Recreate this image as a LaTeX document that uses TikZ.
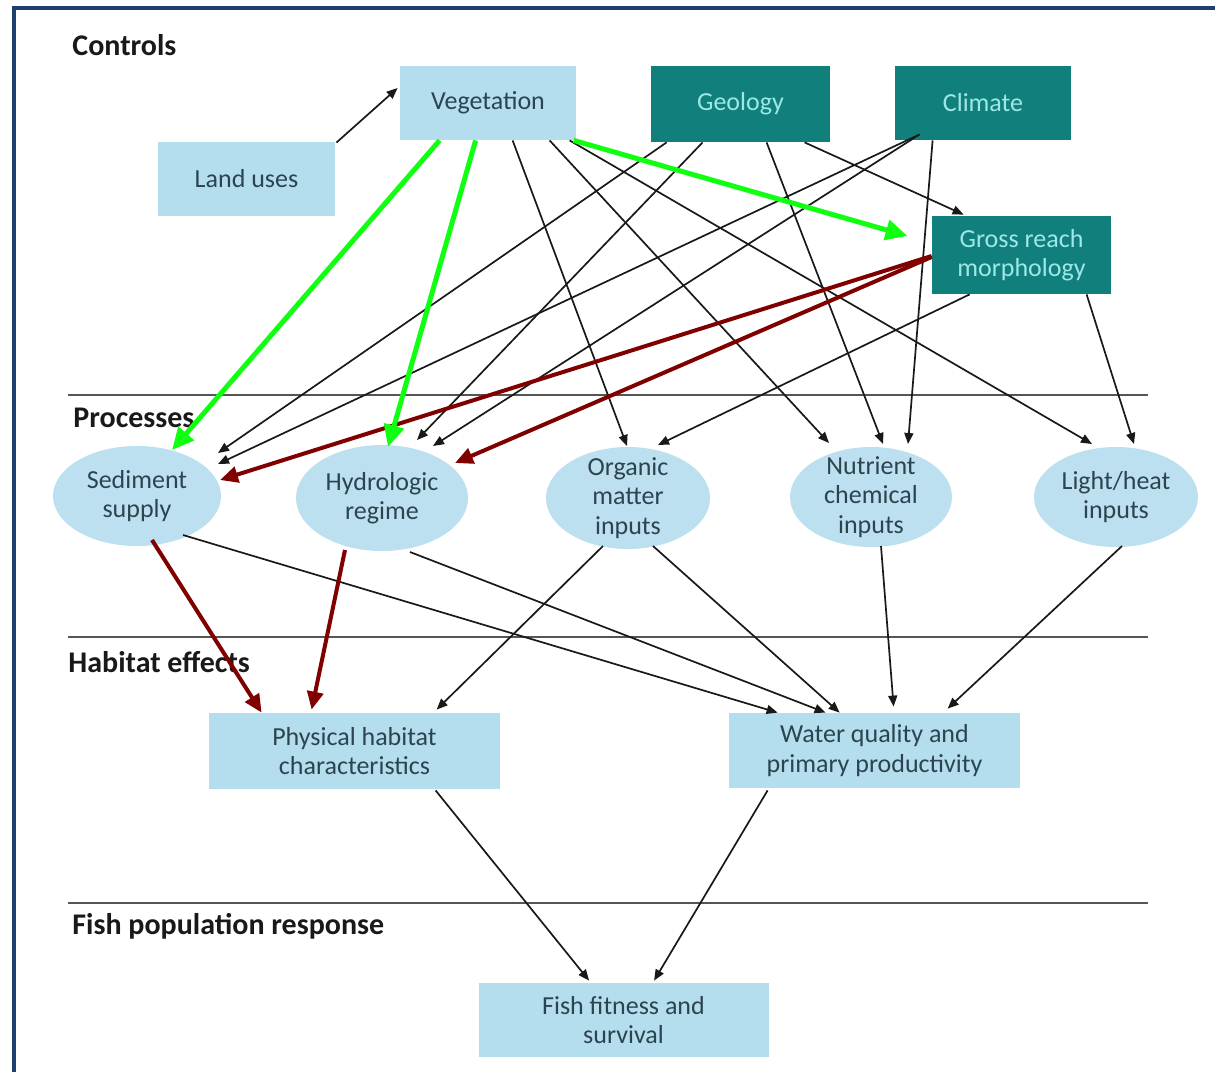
\documentclass[tikz,border=0pt]{standalone}
\usepackage{fontspec}
\setmainfont{Carlito}
\usetikzlibrary{arrows.meta,calc,shapes.geometric}
\definecolor{lbfill}{HTML}{B4DDEE}
\definecolor{ellfill}{HTML}{BCE0EF}
\definecolor{lbtext}{HTML}{2C4450}
\definecolor{tealfill}{HTML}{11807D}
\definecolor{tealtext}{HTML}{9DE8E6}
\definecolor{framenavy}{HTML}{1F3F6E}
\definecolor{sepgray}{HTML}{555555}
\definecolor{redarrow}{HTML}{800000}
\definecolor{greenarrow}{HTML}{11FF11}
\begin{document}
\begin{tikzpicture}[x=0.5pt,y=-0.5pt,
  box/.style={rectangle, inner sep=0pt, align=center, font=\fontsize{13}{14.75}\selectfont},
  lightbox/.style={box, fill=lbfill, text=lbtext},
  tealbox/.style={box, fill=tealfill, text=tealtext},
  proc/.style={ellipse, fill=ellfill, text=lbtext, inner sep=-30pt, align=center, font=\fontsize{13}{14.75}\selectfont},
  conn/.style={draw=black!90, line width=0.85pt, -{Triangle[length=5.5pt,width=4.5pt]}},
  redc/.style={draw=redarrow, line width=2pt, -{Triangle[length=9pt,width=8pt]}},
  greenc/.style={draw=greenarrow, line width=2.5pt, -{Triangle[length=11pt,width=10pt]}},
  sepline/.style={draw=sepgray, line width=1.4pt},
  section/.style={anchor=west, inner sep=0pt, font=\bfseries\fontsize{15}{18}\selectfont, text=black!90}
]
\useasboundingbox (0,0) rectangle (1215,1072);
\fill[white] (0,0) rectangle (1215,1072);
\draw[framenavy, line width=1.6pt] (14,1072) -- (14,8) -- (1215,8);

% separators
\draw[sepline] (68,395) -- (1148,395);
\draw[sepline] (68,637) -- (1148,637);
\draw[sepline] (68,903) -- (1148,903);

% section labels
\node[section] (lctrl) at (72,45) {Controls};
\node[section] (lproc) at (73,418) {Processes};
\node[section] (lhab) at (68,662) {Habitat effects};
\node[section] (lfish) at (72,926) {Fish population response};

% controls
\node[lightbox, minimum width=88pt, minimum height=37pt] (veg) at (488,103) {Vegetation};
\node[tealbox, minimum width=89.5pt, minimum height=38pt] (geo) at (740.5,104) {Geology};
\node[tealbox, minimum width=88pt, minimum height=37pt] (cli) at (983,103) {Climate};
\node[lightbox, minimum width=88.5pt, minimum height=37pt] (land) at (246.5,179) {Land uses};
\node[tealbox, minimum width=89.5pt, minimum height=39pt] (gross) at (1021.5,255) {Gross reach\\morphology};

% processes
\node[proc, minimum width=84pt, minimum height=50pt] (sed) at (137,496) {Sediment\\supply};
\node[proc, minimum width=86pt, minimum height=53pt] (hyd) at (382,498) {Hydrologic\\regime};
\node[proc, minimum width=82pt, minimum height=51pt] (org) at (628,498) {Organic\\matter\\inputs};
\node[proc, minimum width=81pt, minimum height=50pt] (nut) at (871,497) {Nutrient\\chemical\\inputs};
\node[proc, minimum width=82pt, minimum height=50pt] (lig) at (1116,497) {Light/heat\\inputs};

% habitat effects
\node[lightbox, minimum width=145.5pt, minimum height=38pt] (phys) at (354.5,751) {Physical habitat\\characteristics};
\node[lightbox, minimum width=145.5pt, minimum height=37.5pt] (water) at (874.5,750.5) {Water quality and\\primary productivity};

% fish response
\node[lightbox, minimum width=145pt, minimum height=37pt] (fish) at (623.5,1020) {Fish fitness and\\survival};

% black connectors
\draw[conn] ($(land.north east)+(1,1)$) -- ($(veg.west)+(-2,-15)$);
\draw[conn] ($(veg.south west)+(113,0)$) -- ($(org.center)+(-1,-52)$);
\draw[conn] ($(veg.south west)+(150,0)$) -- ($(nut.center)+(-42,-54)$);
\draw[conn] ($(veg.south west)+(170,0)$) -- ($(lig.center)+(-24,-53)$);
\draw[conn] ($(geo.south west)+(16,0)$) -- ($(sed.center)+(81,-43)$);
\draw[conn] ($(geo.south west)+(52,0)$) -- ($(hyd.center)+(35,-58)$);
\draw[conn] ($(geo.south west)+(116,0)$) -- ($(nut.center)+(12,-53)$);
\draw[conn] ($(geo.south west)+(154,0)$) -- ($(gross.north west)+(32,-1)$);
\draw[conn] ($(cli.south west)+(25,-6)$) -- ($(sed.center)+(81,-32)$);
\draw[conn] ($(cli.south west)+(25,-6)$) -- ($(hyd.center)+(51,-52)$);
\draw[conn] ($(cli.south west)+(38,0)$) -- ($(nut.center)+(37,-53)$);
\draw[conn] ($(gross.south west)+(38,0)$) -- ($(org.center)+(30,-53)$);
\draw[conn] ($(gross.south west)+(155,0)$) -- ($(lig.center)+(18,-53)$);

\draw[conn] ($(sed.center)+(46,39)$) -- ($(water.north west)+(49,0)$);
\draw[conn] ($(hyd.center)+(28,54)$) -- ($(water.north west)+(97,0)$);
\draw[conn] ($(org.center)+(-25,48)$) -- ($(phys.north west)+(228,-3)$);
\draw[conn] ($(org.center)+(25,48)$) -- ($(water.north west)+(111,0)$);
\draw[conn] ($(nut.center)+(10,49)$) -- ($(water.north west)+(165,-6)$);
\draw[conn] ($(lig.center)+(6,49)$) -- ($(water.north west)+(219,-4)$);
\draw[conn] ($(phys.south west)+(227,1)$) -- ($(fish.north west)+(111,-2)$);
\draw[conn] ($(water.south west)+(39,2)$) -- ($(fish.north west)+(176,-2)$);

% red connectors
\draw[redc] ($(gross.west)+(0,1)$) -- ($(sed.center)+(83,-16)$);
\draw[redc] ($(gross.west)+(0,2)$) -- ($(hyd.center)+(73,-35)$);
\draw[redc] ($(sed.center)+(15,44)$) -- ($(phys.north west)+(53,0)$);
\draw[redc] ($(hyd.center)+(-37,52)$) -- ($(phys.north west)+(103,-3)$);

% green connectors
\draw[greenc] ($(veg.south west)+(40,0)$) -- ($(sed.center)+(35,-46)$);
\draw[greenc] ($(veg.south west)+(76,0)$) -- ($(hyd.center)+(6,-51)$);
\draw[greenc] ($(veg.south west)+(174,0)$) -- ($(gross.west)+(-24,-19)$);
\end{tikzpicture}
\end{document}
